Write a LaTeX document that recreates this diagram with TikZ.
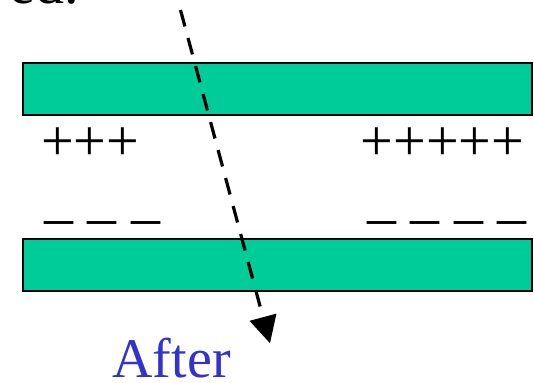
\documentclass[tikz,border=0pt]{standalone}
\usepackage{fontspec}
\setmainfont{Liberation Serif}
\usetikzlibrary{arrows.meta}
\definecolor{barteal}{RGB}{0,204,153}
\definecolor{afterblue}{RGB}{51,51,204}
\tikzset{
  bar/.style={draw=black, line width=2pt, fill=barteal, inner sep=0pt, outer sep=0pt,
    minimum width=509pt, minimum height=52pt},
  sign/.style={inner sep=0pt, outer sep=0pt, font=\fontsize{58}{60}\selectfont},
  ray/.style={line width=3.2pt, dash pattern=on 17pt off 12pt,
    -{Triangle[length=27pt,width=27pt]}},
  label/.style={inner sep=0pt, outer sep=0pt, text=afterblue, font=\fontsize{56}{58}\selectfont}
}
\begin{document}
\begin{tikzpicture}[x=1pt,y=-1pt]
\useasboundingbox (0,0) rectangle (534,382);
\clip (0,0) rectangle (534,382);
\node[sign, anchor=base east] (cut) at (79,4) {ed.};
\node[bar] (top) at (277.5,89) {};
\node[bar] (bottom) at (277.5,264.7) {};
\node[sign, anchor=base west] (plusL) at (41,160.7) {+++};
\node[sign, anchor=base west] (plusR) at (360.6,160.7) {+++++};
\node[sign, anchor=base west] (minusL) at (44,236.4) {\textendash{} \textendash{} \textendash};
\node[sign, anchor=base west] (minusR) at (367.3,236.4) {\textendash{} \textendash{} \textendash{} \textendash};
\node[label, anchor=base west] (after) at (112.5,377.5) {After};
\coordinate (raystart) at (180.5,10);
\coordinate (rayend) at (270,343.3);
\draw[ray] (raystart) -- (rayend);
\end{tikzpicture}
\end{document}
